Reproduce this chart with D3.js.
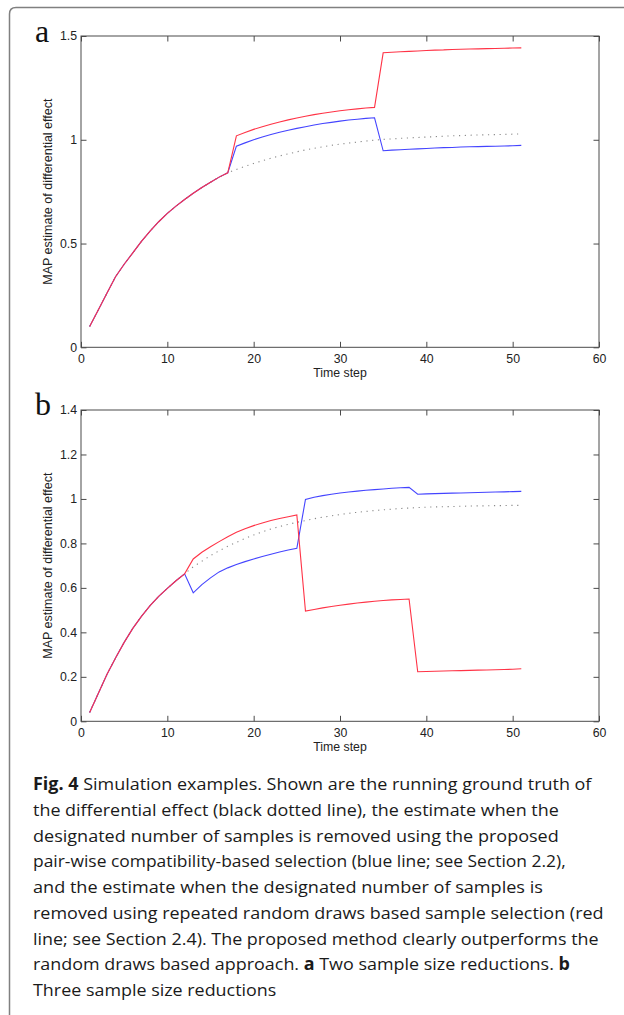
<!DOCTYPE html>
<html>
<head>
<meta charset="utf-8">
<script src="https://cdn.jsdelivr.net/npm/d3@7"></script>
<style>
  html, body { margin: 0; padding: 0; background: #fff; }
  svg { display: block; }
</style>
</head>
<body>
<div id="chart"></div>
<script>
// Time steps shared by both panels
const steps = d3.range(1, 52);
const xTicks = [0, 10, 20, 30, 40, 50, 60];
const yTicksA = [0, 0.5, 1, 1.5];
const yTicksB = [0, 0.2, 0.4, 0.6, 0.8, 1, 1.2, 1.4];

// Panel a: two sample size reductions (at steps 18 and 35)
const truthA = [0.10, 0.18, 0.26, 0.34, 0.40, 0.455, 0.51, 0.56, 0.605, 0.645, 0.68, 0.712, 0.742, 0.77, 0.795, 0.82, 0.841,
  0.857, 0.872, 0.886, 0.899, 0.911, 0.922, 0.932, 0.942, 0.951, 0.959, 0.966, 0.973, 0.979, 0.984, 0.989, 0.994, 0.998,
  1.002, 1.004, 1.007, 1.009, 1.011, 1.013, 1.015, 1.017, 1.019, 1.020, 1.022, 1.023, 1.024, 1.025, 1.026, 1.027, 1.028];
const blueA = [0.10, 0.18, 0.26, 0.34, 0.40, 0.455, 0.51, 0.56, 0.605, 0.645, 0.68, 0.712, 0.742, 0.77, 0.795, 0.82, 0.841,
  0.969, 0.985, 1.0, 1.013, 1.025, 1.036, 1.046, 1.055, 1.063, 1.071, 1.078, 1.084, 1.09, 1.095, 1.099, 1.103, 1.106,
  0.947, 0.950, 0.952, 0.954, 0.956, 0.958, 0.960, 0.962, 0.963, 0.965, 0.966, 0.967, 0.968, 0.969, 0.970, 0.971, 0.973];
const redA = [0.10, 0.18, 0.26, 0.34, 0.40, 0.455, 0.51, 0.56, 0.605, 0.645, 0.68, 0.712, 0.742, 0.77, 0.795, 0.82, 0.841,
  1.019, 1.035, 1.05, 1.063, 1.075, 1.086, 1.096, 1.105, 1.113, 1.121, 1.128, 1.134, 1.14, 1.145, 1.149, 1.153, 1.156,
  1.419, 1.422, 1.424, 1.426, 1.428, 1.430, 1.432, 1.433, 1.435, 1.436, 1.437, 1.438, 1.439, 1.440, 1.441, 1.442, 1.443];

// Panel b: three sample size reductions (at steps 13, 26 and 39)
const truthB = [0.04, 0.125, 0.21, 0.285, 0.355, 0.418, 0.472, 0.52, 0.562, 0.598, 0.632, 0.663,
  0.695, 0.72, 0.745, 0.767, 0.787, 0.805, 0.822, 0.838, 0.852, 0.865, 0.876, 0.886, 0.895,
  0.903, 0.911, 0.918, 0.924, 0.93, 0.935, 0.94, 0.944, 0.948, 0.951, 0.954, 0.957, 0.959,
  0.961, 0.963, 0.964, 0.965, 0.966, 0.967, 0.968, 0.969, 0.969, 0.970, 0.970, 0.971, 0.971];
const blueB = [0.04, 0.125, 0.21, 0.285, 0.355, 0.418, 0.472, 0.52, 0.562, 0.598, 0.632, 0.663,
  0.578, 0.615, 0.645, 0.672, 0.69, 0.705, 0.718, 0.73, 0.741, 0.751, 0.761, 0.77, 0.778,
  0.998, 1.008, 1.015, 1.021, 1.027, 1.031, 1.035, 1.039, 1.042, 1.045, 1.048, 1.05, 1.052,
  1.021, 1.023, 1.024, 1.025, 1.026, 1.027, 1.028, 1.029, 1.030, 1.031, 1.032, 1.033, 1.034];
const redB = [0.04, 0.125, 0.21, 0.285, 0.355, 0.418, 0.472, 0.52, 0.562, 0.598, 0.632, 0.663,
  0.73, 0.76, 0.785, 0.808, 0.83, 0.85, 0.866, 0.88, 0.892, 0.903, 0.912, 0.92, 0.928,
  0.496, 0.503, 0.51, 0.516, 0.522, 0.527, 0.532, 0.536, 0.54, 0.543, 0.546, 0.548, 0.55,
  0.223, 0.224, 0.225, 0.226, 0.227, 0.228, 0.229, 0.230, 0.231, 0.232, 0.233, 0.234, 0.236];

// Caption, one entry per printed line; [text, bold]
const captionLines = [
  [["Fig. 4", true], [" Simulation examples. Shown are the running ground truth of", false]],
  [["the differential effect (black dotted line), the estimate when the", false]],
  [["designated number of samples is removed using the proposed", false]],
  [["pair-wise compatibility-based selection (blue line; see Section 2.2),", false]],
  [["and the estimate when the designated number of samples is", false]],
  [["removed using repeated random draws based sample selection (red", false]],
  [["line; see Section 2.4). The proposed method clearly outperforms the", false]],
  [["random draws based approach. ", false], ["a", true], [" Two sample size reductions. ", false], ["b", true]],
  [["Three sample size reductions", false]]
];
const captionEnds = [592, 559, 559, 566, 543, 604, 599, 570, null];

const W = 624, H = 1015;
const left = 81, right = 599;
const axisColor = "#4a4a4a";

const svg = d3.select("#chart").append("svg")
  .attr("width", W).attr("height", H);

// outer frame (top + left border with rounded corner)
svg.append("path")
  .attr("d", `M${W},7.5 H16 Q9.5,7.5 9.5,14 V${H}`)
  .attr("fill", "none")
  .attr("stroke", "#808080")
  .attr("stroke-width", 1.5);

const x = d3.scaleLinear().domain([0, 60]).range([left, right]);

function drawPanel(cfg) {
  const y = d3.scaleLinear().domain(cfg.yDomain).range([cfg.bottom, cfg.top]);
  const g = svg.append("g");

  const styleAxis = sel => {
    sel.select(".domain").remove();
    sel.selectAll("line").attr("stroke", axisColor);
    sel.selectAll("text")
      .attr("fill", "#222")
      .style("font-family", "'Liberation Sans', Arial, sans-serif")
      .style("font-size", "12.3px");
  };

  g.append("g").attr("transform", `translate(${left},0)`)
    .call(d3.axisLeft(y).tickValues(cfg.yTicks).tickSizeInner(-5.5).tickSizeOuter(0).tickPadding(4).tickFormat(d => String(d)))
    .call(styleAxis);
  g.append("g").attr("transform", `translate(${right},0)`)
    .call(d3.axisRight(y).tickValues(cfg.yTicks).tickSizeInner(-5.5).tickSizeOuter(0).tickFormat(""))
    .call(styleAxis);
  g.append("g").attr("transform", `translate(0,${cfg.bottom})`)
    .call(d3.axisBottom(x).tickValues(xTicks).tickSizeInner(-5.5).tickSizeOuter(0).tickPadding(7).tickFormat(d => String(d)))
    .call(styleAxis);
  g.append("g").attr("transform", `translate(0,${cfg.top})`)
    .call(d3.axisTop(x).tickValues(xTicks).tickSizeInner(-5.5).tickSizeOuter(0).tickFormat(""))
    .call(styleAxis);

  g.append("rect")
    .attr("x", left).attr("y", cfg.top)
    .attr("width", right - left).attr("height", cfg.bottom - cfg.top)
    .attr("fill", "none").attr("stroke", axisColor).attr("stroke-width", 1);

  const line = d3.line().x((d, i) => x(steps[i])).y(d => y(d));

  g.append("path").datum(cfg.truth)
    .attr("d", line).attr("fill", "none")
    .attr("stroke", "#8a8a8a").attr("stroke-width", 1.1)
    .attr("stroke-dasharray", "1.2,4.6");
  g.append("path").datum(cfg.blue)
    .attr("d", line).attr("fill", "none")
    .attr("stroke", "#4444ff").attr("stroke-width", 1.1);
  g.append("path").datum(cfg.red)
    .attr("d", line).attr("fill", "none")
    .attr("stroke", "#ff3346").attr("stroke-width", 1.1);

  // axis titles
  g.append("text")
    .attr("x", (left + right) / 2).attr("y", cfg.bottom + 29.5)
    .attr("text-anchor", "middle")
    .attr("fill", "#222")
    .style("font-family", "'Liberation Sans', Arial, sans-serif")
    .style("font-size", "12.3px")
    .text("Time step");
  g.append("text")
    .attr("transform", `translate(51.5,${(cfg.top + cfg.bottom) / 2}) rotate(-90)`)
    .attr("text-anchor", "middle")
    .attr("fill", "#222")
    .style("font-family", "'Liberation Sans', Arial, sans-serif")
    .style("font-size", "12.5px")
    .text("MAP estimate of differential effect");

  // panel letter
  g.append("text")
    .attr("x", 35).attr("y", cfg.letterY)
    .attr("fill", "#111")
    .style("font-family", "'Liberation Serif', 'Times New Roman', serif")
    .style("font-size", "32px")
    .text(cfg.letter);
}

drawPanel({ top: 36, bottom: 347.3, yDomain: [0, 1.5], yTicks: yTicksA,
  truth: truthA, blue: blueA, red: redA, letter: "a", letterY: 41.5 });
drawPanel({ top: 410, bottom: 721.3, yDomain: [0, 1.4], yTicks: yTicksB,
  truth: truthB, blue: blueB, red: redB, letter: "b", letterY: 415 });

// caption
const capX = 33, capY0 = 790, capLH = 25.75;
const cap = svg.append("g")
  .style("font-family", "'Open Sans', 'Noto Sans', sans-serif")
  .style("font-size", "17px")
  .attr("fill", "#1a1a1a");

const scales = [];
const lineNodes = captionLines.map((parts, i) => {
  const t = cap.append("text")
    .attr("x", 0).attr("y", 0);
  parts.forEach(([txt, bold]) => {
    t.append("tspan")
      .attr("font-weight", bold ? 700 : 400)
      .text(txt);
  });
  const natural = t.node().getComputedTextLength();
  if (captionEnds[i] != null) scales.push((captionEnds[i] - capX) / natural);
  return { t, natural, target: captionEnds[i] };
});
const meanScale = d3.mean(scales);
lineNodes.forEach(({ t, natural, target }, i) => {
  const k = target != null ? (target - capX) / natural : meanScale;
  t.attr("transform", `translate(${capX},${capY0 + i * capLH}) scale(${k},1)`);
});
</script>
</body>
</html>
